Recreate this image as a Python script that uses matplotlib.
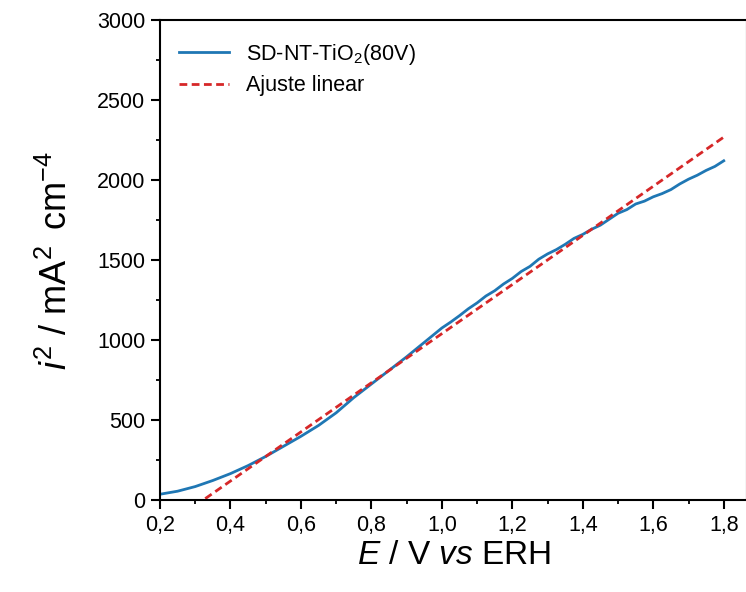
import matplotlib
matplotlib.use('Agg')
import matplotlib.pyplot as plt
from matplotlib.ticker import MultipleLocator, FuncFormatter

plt.rcParams['font.family'] = ['Liberation Sans', 'DejaVu Sans']
plt.rcParams['mathtext.fontset'] = 'custom'
plt.rcParams['mathtext.rm'] = 'Liberation Sans'
plt.rcParams['mathtext.it'] = 'Liberation Sans:italic'

E = [0.200, 0.250, 0.300, 0.350, 0.400, 0.450, 0.500, 0.550, 0.600, 0.650,
     0.700, 0.750, 0.800, 0.850,
     0.900, 0.925, 0.950, 0.975, 1.000, 1.025, 1.050, 1.075, 1.100, 1.125,
     1.150, 1.175, 1.200, 1.225, 1.250, 1.275, 1.300, 1.325, 1.350, 1.375,
     1.400, 1.425, 1.450, 1.475, 1.500, 1.525, 1.550, 1.575, 1.600, 1.625,
     1.650, 1.675, 1.700, 1.725, 1.750, 1.775, 1.800]
i2 = [36, 55, 84, 122, 165, 215, 272, 335, 398, 466,
      545, 640, 725, 810,
      895, 940, 985, 1030, 1075, 1112, 1152, 1195, 1232, 1275,
      1308, 1350, 1385, 1428, 1460, 1505, 1538, 1565, 1598, 1635,
      1660, 1692, 1718, 1755, 1792, 1815, 1850, 1868, 1895, 1915,
      1940, 1975, 2005, 2030, 2060, 2085, 2120]

# linear fit endpoints
E_fit = [0.30, 1.80]
i2_fit = [-35, 2268]

fig = plt.figure(figsize=(7.46, 5.92), dpi=100)
ax = fig.add_axes([160 / 746, 92 / 592, 587 / 746, 480 / 592])

ax.plot(E, i2, color='#1f77b4', linewidth=2.0, label='SD-NT-TiO$_2$(80V)')
ax.plot(E_fit, i2_fit, color='#d62728', linewidth=2.0,
        linestyle=(0, (2.8, 1.6)), label='Ajuste linear')

ax.set_xlim(0.2, 1.866)
ax.set_ylim(0, 3000)

ax.xaxis.set_major_locator(MultipleLocator(0.2))
ax.xaxis.set_minor_locator(MultipleLocator(0.1))
ax.yaxis.set_major_locator(MultipleLocator(500))
ax.yaxis.set_minor_locator(MultipleLocator(250))
ax.xaxis.set_major_formatter(FuncFormatter(lambda v, p: f'{v:.1f}'.replace('.', ',')))

ax.tick_params(which='major', direction='out', length=6.5, width=1.5,
               labelsize=15.5, pad=4)
ax.tick_params(which='minor', direction='out', length=3, width=1.3)
ax.tick_params(top=False, right=False)
for s in ax.spines.values():
    s.set_linewidth(1.5)

ax.set_xlabel('$E$ / V $vs$ ERH', fontsize=24, labelpad=3)
ax.set_ylabel(r'$i^{2}$ / mA$^{2}\,$ cm$^{-4}$', fontsize=26, labelpad=16)

ax.legend(loc='upper left', frameon=False, fontsize=15.5, handlelength=2.3,
          handletextpad=0.8, labelspacing=0.4,
          borderaxespad=0.5, bbox_to_anchor=(0.0, 0.995))

fig.savefig('out.png', dpi=100)
